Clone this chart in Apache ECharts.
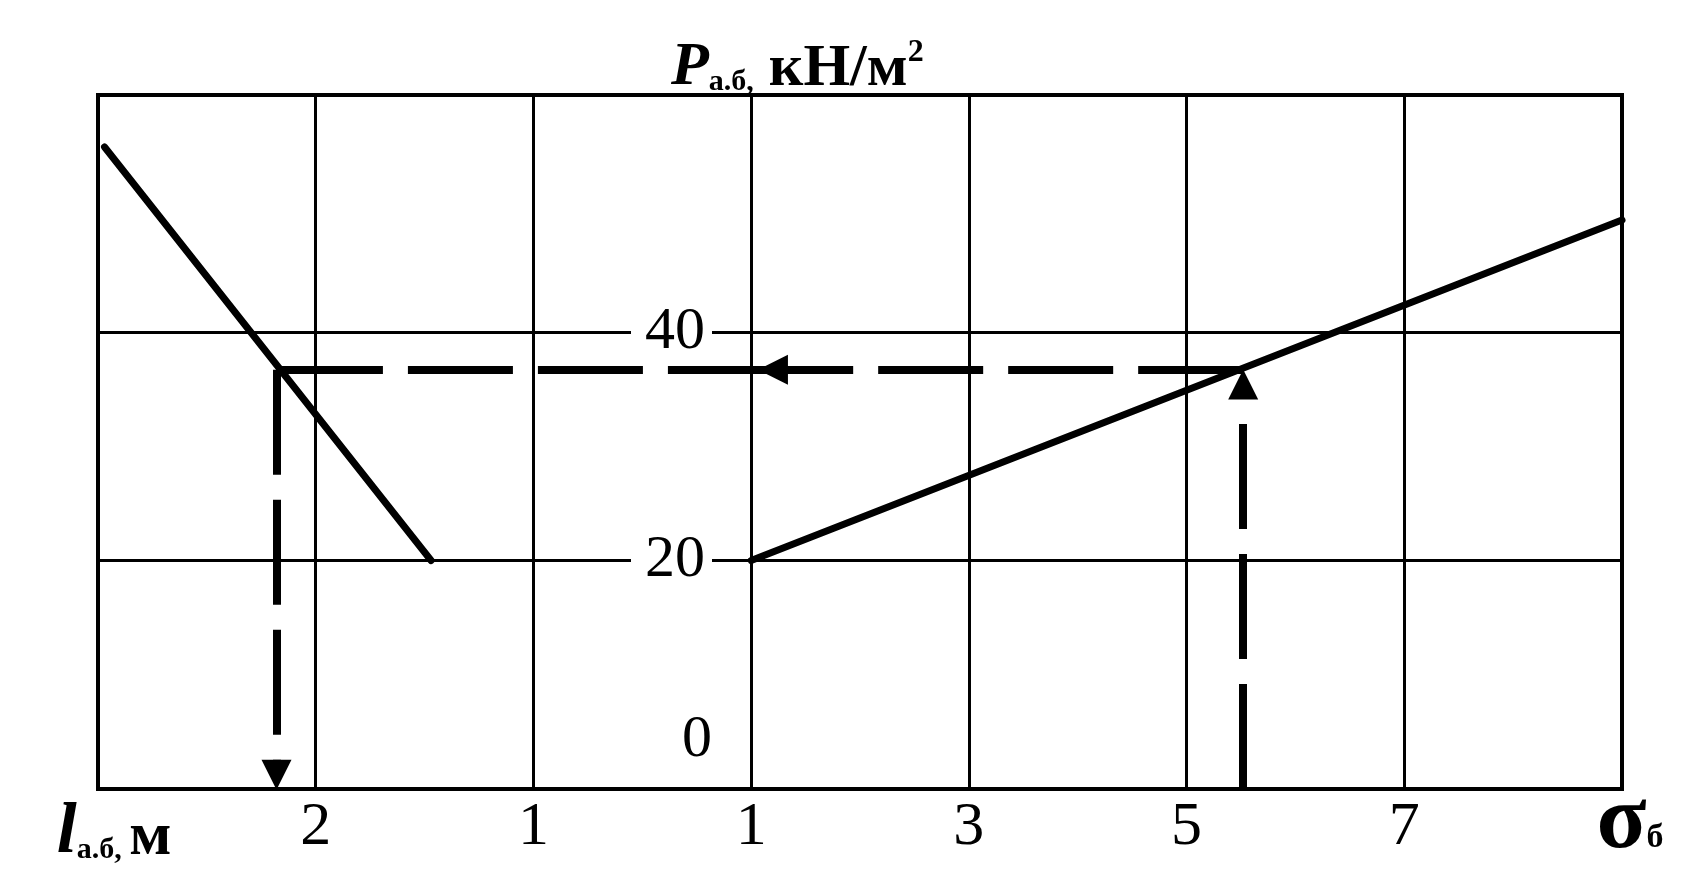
<!DOCTYPE html>
<html>
<head>
<meta charset="utf-8">
<script src="https://cdn.jsdelivr.net/npm/echarts@6/dist/echarts.min.js"></script>
<style>
  html, body { margin: 0; padding: 0; background: #fff; }
  #chart { width: 1682px; height: 884px; }
</style>
</head>
<body>
<div id="chart"></div>
<script>
// ---- data ----
// x positions are grid columns 0..7 (left half: l а.б, м ; right half: σб)
const xTickLabels = ['', '2', '1', '1', '3', '5', '7', ''];
const xStartLabel = { main: 'l', sub: 'а.б,', unit: 'м' };
const xEndLabel = { main: 'σ', sub: 'б' };
const yTicks = [0, 20, 40, 60];
const yTickLabels = ['0', '20', '40', ''];
const yTop = 60.75;            // value at the top edge of the frame
const gridLevels = [20, 40];   // horizontal grid lines
const titleParts = { main: 'P', sub: 'а.б,', unit: ' кН/м', sup: '2' };

// solid characteristic lines [column, P]
const leftLine = [[0.03, 56.2], [1.53, 20]];
const rightLine = [[3, 20], [7, 49.8]];

// dashed construction lines [column, P]
const guideLevel = 36.7;
const leftFoot = 0.82;
const rightFoot = 5.26;
const midArrowAt = 3.1;
const downArrowEnd = 1.25;
const upArrowEnd = 35.4;

const chart = echarts.init(document.getElementById('chart'));
const FONT = 'Liberation Serif';

const option = {
  animation: false,
  backgroundColor: '#fff',
  title: {
    left: 666,
    top: 32,
    text: '{p|' + titleParts.main + '}{s|' + titleParts.sub + '}{u|' + titleParts.unit + '}{t|' + titleParts.sup + '}',
    textStyle: {
      fontFamily: FONT,
      rich: {
        p: { fontFamily: FONT, fontSize: 62, fontStyle: 'italic', fontWeight: 'bold', color: '#000', verticalAlign: 'bottom' },
        s: { fontFamily: FONT, fontSize: 30, fontWeight: 'bold', color: '#000', verticalAlign: 'bottom', padding: [0, 0, 2, 0] },
        u: { fontFamily: FONT, fontSize: 60, fontWeight: 'bold', color: '#000', verticalAlign: 'bottom' },
        t: { fontFamily: FONT, fontSize: 32, fontWeight: 'bold', color: '#000', verticalAlign: 'top' }
      }
    }
  },
  grid: {
    left: 98, right: 60, top: 95, bottom: 95,
    show: true, borderColor: '#000', borderWidth: 4, backgroundColor: 'transparent'
  },
  xAxis: {
    type: 'value', min: 0, max: 7, interval: 1,
    axisLine: { show: false }, axisTick: { show: false },
    splitLine: { show: true, lineStyle: { color: '#000', width: 3 } },
    axisLabel: {
      showMinLabel: true, showMaxLabel: true,
      margin: 8,
      fontFamily: FONT, fontSize: 62, color: '#000',
      formatter: function (v) {
        const i = Math.round(v);
        if (i === 0) return '{l|' + xStartLabel.main + '}{s|' + xStartLabel.sub + ' }{m|' + xStartLabel.unit + '}';
        if (i === 7) return '{g|' + xEndLabel.main + '}{b|' + xEndLabel.sub + '}';
        return '{d|' + xTickLabels[i] + '}';
      },
      rich: {
        d: { fontFamily: FONT, fontSize: 62, color: '#000' },
        l: { fontFamily: FONT, fontSize: 72, fontStyle: 'italic', fontWeight: 'bold', color: '#000', verticalAlign: 'bottom', padding: [0, 0, 0, 32] },
        s: { fontFamily: FONT, fontSize: 30, fontWeight: 'bold', color: '#000', verticalAlign: 'bottom', padding: [0, 0, 4, 0] },
        m: { fontFamily: FONT, fontSize: 62, fontWeight: 'bold', color: '#000', verticalAlign: 'bottom' },
        g: { fontFamily: FONT, fontSize: 92, lineHeight: 72, fontWeight: 'bold', color: '#000', verticalAlign: 'bottom', padding: [0, 0, 0, 16] },
        b: { fontFamily: FONT, fontSize: 34, fontWeight: 'bold', color: '#000', verticalAlign: 'bottom', padding: [0, 0, 14, 0] }
      }
    }
  },
  yAxis: {
    type: 'value', min: 0, max: yTop, interval: 20,
    z: 10,
    axisLine: { show: false }, axisTick: { show: false },
    splitLine: { show: false },
    axisLabel: {
      margin: -614,
      fontFamily: FONT, fontSize: 60, color: '#000',
      formatter: function (v) {
        const idx = yTicks.indexOf(v);
        const t = idx >= 0 ? yTickLabels[idx] : '';
        if (!t) return '';
        if (v === 0) return '{z|' + t + '}';
        return '{n|' + t + '}';
      },
      rich: {
        n: { fontFamily: FONT, fontSize: 60, color: '#000', backgroundColor: '#fff', padding: [0, 7, 0, 14] },
        z: { fontFamily: FONT, fontSize: 60, color: '#000', padding: [0, 0, 98, 0] }
      }
    }
  },
  series: [
    {
      type: 'line', data: leftLine, symbol: 'none', silent: true, z: 3,
      lineStyle: { color: '#000', width: 7, cap: 'round' },
      markLine: {
        silent: true, animation: false, z: 1,
        symbol: ['none', 'none'],
        label: { show: false },
        lineStyle: { color: '#000', width: 3, type: 'solid' },
        emphasis: { disabled: true },
        data: gridLevels.map(function (v) { return { yAxis: v }; })
      }
    },
    {
      type: 'line', data: rightLine, symbol: 'none', silent: true, z: 3,
      lineStyle: { color: '#000', width: 7, cap: 'round' }
    },
    {
      type: 'lines', coordinateSystem: 'cartesian2d', silent: true, z: 3,
      symbol: ['none', 'none'],
      lineStyle: { color: '#000', width: 8, opacity: 1, type: [105, 25] },
      data: [
        { coords: [[midArrowAt, guideLevel], [leftFoot, guideLevel]] }
      ]
    },
    {
      type: 'lines', coordinateSystem: 'cartesian2d', silent: true, z: 3,
      symbol: ['none', 'triangle'], symbolSize: 30,
      lineStyle: { color: '#000', width: 8, opacity: 1, type: [105, 25] },
      data: [
        { coords: [[rightFoot, guideLevel], [midArrowAt, guideLevel]] },
        { coords: [[leftFoot, guideLevel], [leftFoot, downArrowEnd]] },
        { coords: [[rightFoot, 0], [rightFoot, upArrowEnd]] }
      ]
    }
  ]
};
chart.setOption(option);
</script>
</body>
</html>
